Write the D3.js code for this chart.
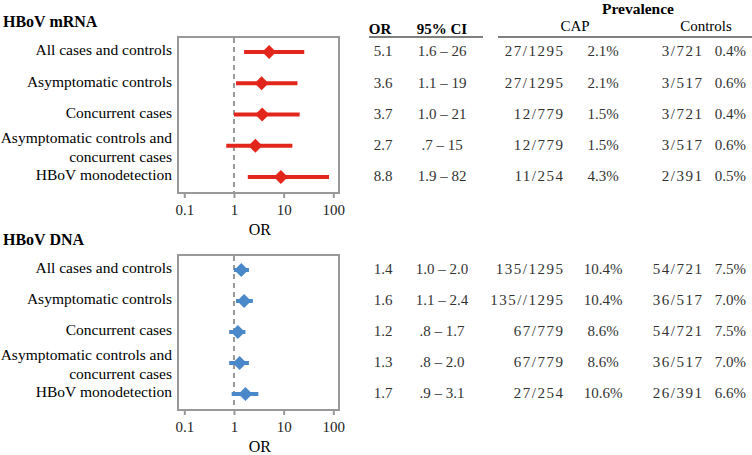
<!DOCTYPE html>
<html><head><meta charset="utf-8">
<script src="https://cdn.jsdelivr.net/npm/d3@7"></script>
<style>body{margin:0;background:#fff}svg{display:block}</style>
</head><body><svg id="c" width="752" height="455"></svg>
<script>
const labels = [["All cases and controls"],["Asymptomatic controls"],["Concurrent cases"],["Asymptomatic controls and","concurrent cases"],["HBoV monodetection"]];
const panels = ["HBoV mRNA","HBoV DNA"];
const mrnaEst = [5.1,3.6,3.7,2.7,8.8];
const mrnaLo = [1.6,1.1,1.0,0.7,1.9];
const mrnaHi = [26,19,21,15,82];
const dnaEst = [1.4,1.6,1.2,1.3,1.7];
const dnaLo = [1.0,1.1,0.8,0.8,0.9];
const dnaHi = [2.0,2.4,1.7,2.0,3.1];
const mrnaOR = ["5.1","3.6","3.7","2.7","8.8"];
const mrnaCI = ["1.6 – 26","1.1 – 19","1.0 – 21",".7 – 15","1.9 – 82"];
const mrnaCap = ["27/1295","27/1295","12/779","12/779","11/254"];
const mrnaCapPct = ["2.1%","2.1%","1.5%","1.5%","4.3%"];
const mrnaCtl = ["3/721","3/517","3/721","3/517","2/391"];
const mrnaCtlPct = ["0.4%","0.6%","0.4%","0.6%","0.5%"];
const dnaOR = ["1.4","1.6","1.2","1.3","1.7"];
const dnaCI = ["1.0 – 2.0","1.1 – 2.4",".8 – 1.7",".8 – 2.0",".9 – 3.1"];
const dnaCap = ["135/1295","135//1295","67/779","67/779","27/254"];
const dnaCapPct = ["10.4%","10.4%","8.6%","8.6%","10.6%"];
const dnaCtl = ["54/721","36/517","54/721","36/517","26/391"];
const dnaCtlPct = ["7.5%","7.0%","7.5%","7.0%","6.6%"];
const ticks = [0.1,1,10,100];
const tickLabels = ["0.1","1","10","100"];

const svg = d3.select("#c");
const x = d3.scaleLog().domain([0.1,100]).range([184.3,333.3]);
const colors = ["#e3261c","#4a88c9"];
const data = [
  {est:mrnaEst,lo:mrnaLo,hi:mrnaHi,or:mrnaOR,ci:mrnaCI,cap:mrnaCap,capP:mrnaCapPct,ctl:mrnaCtl,ctlP:mrnaCtlPct},
  {est:dnaEst,lo:dnaLo,hi:dnaHi,or:dnaOR,ci:dnaCI,cap:dnaCap,capP:dnaCapPct,ctl:dnaCtl,ctlP:dnaCtlPct}
];
const boxes = [{top:37,bottom:193},{top:255,bottom:410}];

// headers
const hd = svg.append("g");
hd.append("text").attr("x",380).attr("y",34).attr("text-anchor","middle").attr("font-weight","bold").attr("font-size",15).text("OR");
hd.append("text").attr("x",442).attr("y",34).attr("text-anchor","middle").attr("font-weight","bold").attr("font-size",15).text("95% CI");
hd.append("text").attr("x",638).attr("y",14).attr("text-anchor","middle").attr("font-weight","bold").attr("font-size",15.5).text("Prevalence");
hd.append("text").attr("x",575).attr("y",31).attr("text-anchor","middle").attr("font-size",15).text("CAP");
hd.append("text").attr("x",706).attr("y",31).attr("text-anchor","middle").attr("font-size",15).text("Controls");
hd.append("line").attr("x1",369).attr("x2",483).attr("y1",37).attr("y2",37).attr("stroke","#555").attr("stroke-width",1.3);
hd.append("line").attr("x1",498).attr("x2",752).attr("y1",37).attr("y2",37).attr("stroke","#555").attr("stroke-width",1.3);

data.forEach((d,p)=>{
  const b = boxes[p];
  const y = d3.scalePoint().domain(d3.range(5)).range([b.top+15,b.bottom-16]);
  const g = svg.append("g");
  g.append("text").attr("x",3).attr("y",b.top-10).attr("font-weight","bold").attr("font-size",16).text(panels[p]);
  // axis
  const ax = g.append("g").attr("transform",`translate(0,${b.bottom})`)
    .call(d3.axisBottom(x).tickValues(ticks).tickFormat((t,i)=>tickLabels[i]).tickSize(5).tickPadding(6));
  ax.select(".domain").remove();
  ax.selectAll(".tick line").attr("stroke","#999").attr("stroke-width",2);
  ax.selectAll(".tick text").attr("font-size",15).attr("fill","#222");
  g.append("text").attr("x",(x(0.1)+x(100))/2+1).attr("y",b.bottom+42).attr("text-anchor","middle").attr("font-size",16).text("OR");
  // box
  g.append("rect").attr("x",178).attr("y",b.top).attr("width",161).attr("height",b.bottom-b.top).attr("fill","none").attr("stroke","#999").attr("stroke-width",2);
  g.append("line").attr("x1",x(1)).attr("x2",x(1)).attr("y1",b.top+1).attr("y2",b.bottom-1).attr("stroke","#999").attr("stroke-width",2).attr("stroke-dasharray","5,4");
  // labels
  labels.forEach((lab,i)=>{
    if(lab.length===1){
      g.append("text").attr("x",172).attr("y",y(i)-2).attr("dy","0.35em").attr("text-anchor","end").attr("font-size",15.5).text(lab[0]);
    } else {
      g.append("text").attr("x",172).attr("y",y(i)-8).attr("dy","0.35em").attr("text-anchor","end").attr("font-size",15.5).text(lab[0]);
      g.append("text").attr("x",172).attr("y",y(i)+11).attr("dy","0.35em").attr("text-anchor","end").attr("font-size",15.5).text(lab[1]);
    }
  });
  // CI lines
  g.selectAll("line.ci").data(d3.range(5)).join("line").attr("class","ci")
    .attr("x1",i=>x(d.lo[i])).attr("x2",i=>x(d.hi[i])).attr("y1",i=>y(i)).attr("y2",i=>y(i))
    .attr("stroke",colors[p]).attr("stroke-width",4);
  g.selectAll("path.pt").data(d3.range(5)).join("path").attr("class","pt")
    .attr("transform",i=>`translate(${x(d.est[i])},${y(i)})`)
    .attr("d","M0,-7L7,0L0,7L-7,0Z").attr("fill",colors[p]);
  // table
  const cols = [
    {v:d.or,x:383,a:"middle",ls:0},{v:d.ci,x:442,a:"middle",ls:0},{v:d.cap,x:564.5,a:"end",ls:1.5},
    {v:d.capP,x:603,a:"middle",ls:0},{v:d.ctl,x:703.5,a:"end",ls:1.5},{v:d.ctlP,x:746,a:"end",ls:0}
  ];
  cols.forEach(c=>{
    g.selectAll(null).data(d3.range(5)).join("text").attr("x",c.x).attr("y",i=>y(i)-1).attr("dy","0.35em")
      .attr("text-anchor",c.a).attr("font-size",15).attr("fill","#333").style("letter-spacing",c.ls+"px").text(i=>c.v[i]);
  });
});
svg.selectAll("text").style("font-family",'"Liberation Serif"');
</script></body></html>
